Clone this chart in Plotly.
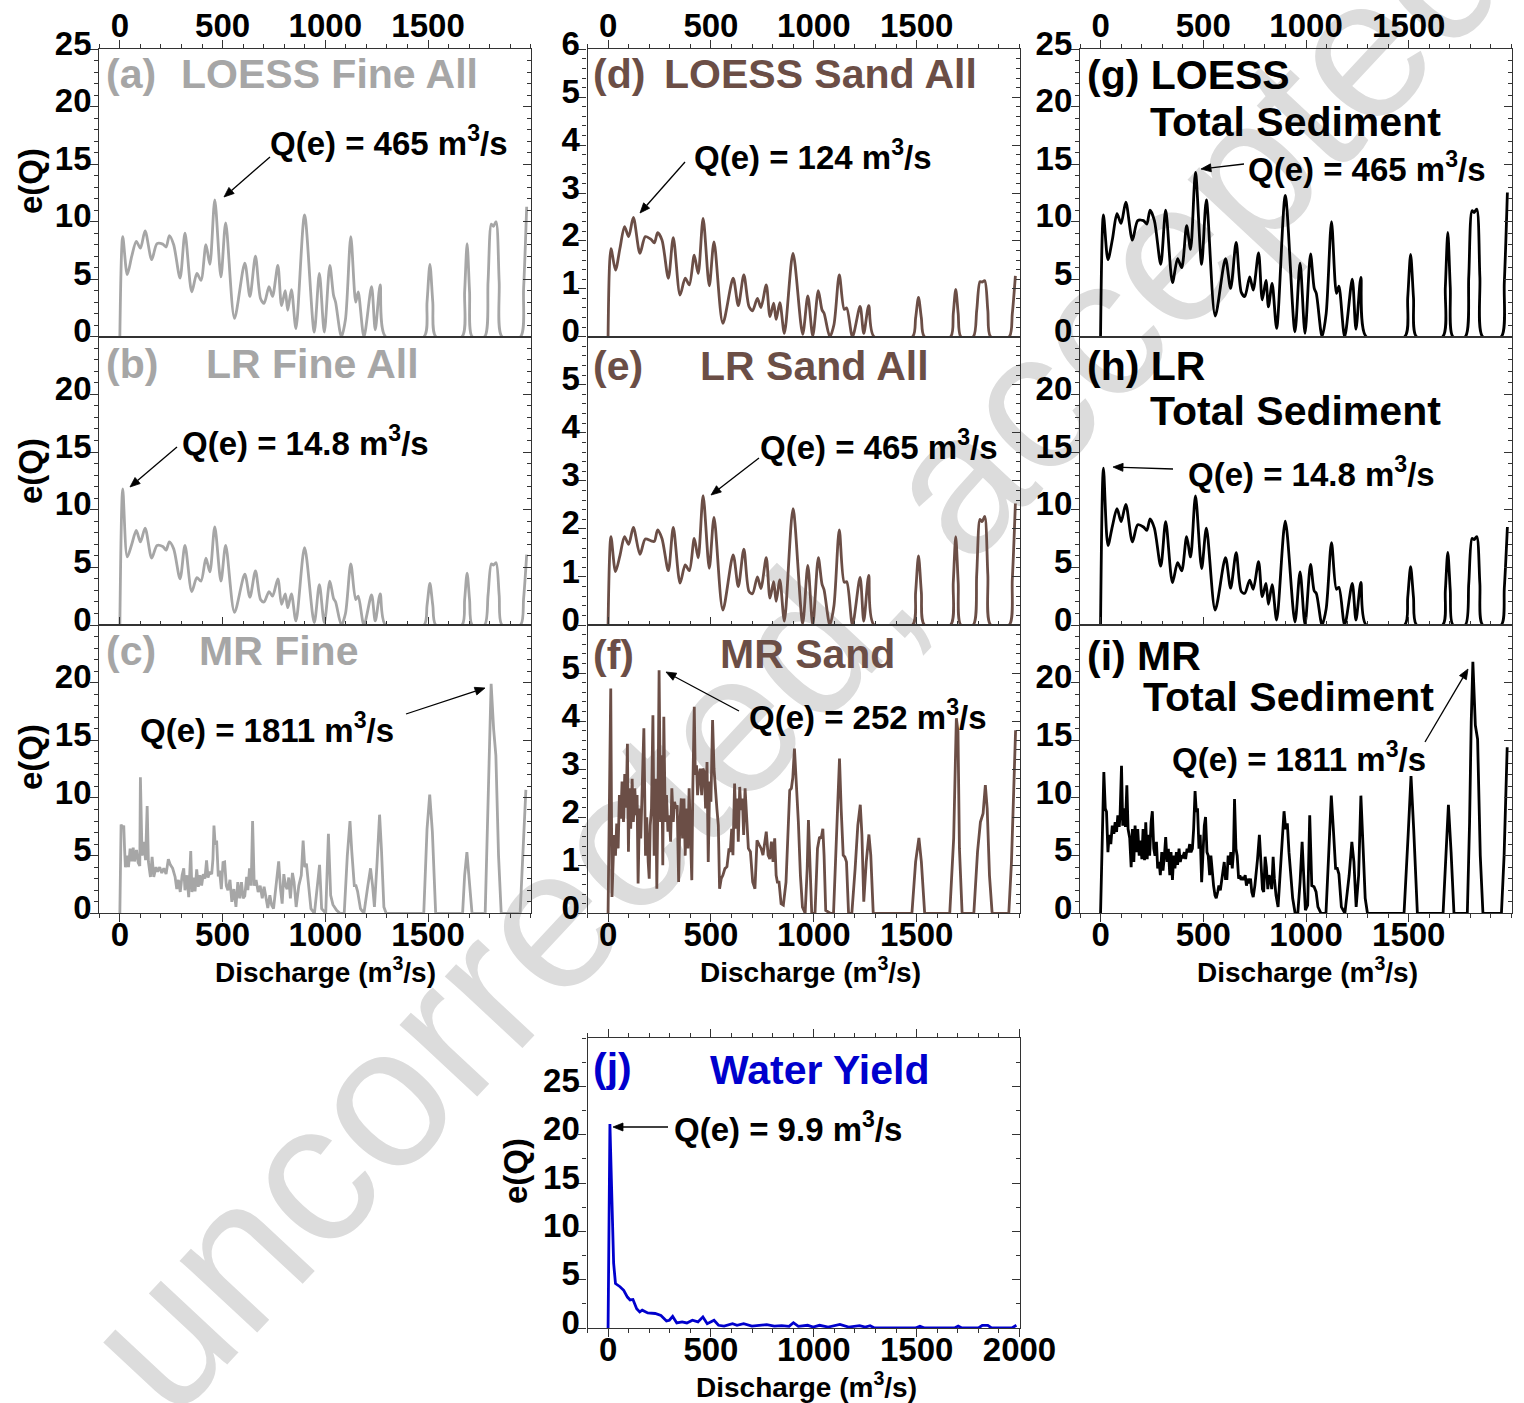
import math
import plotly.graph_objects as go

W, H = 1524, 1403
FONT = "Liberation Sans, Arial, Helvetica, sans-serif"

# ---------------- data ----------------
# common discharge grid used by the LOESS / LR curves (m3/s)
q_grid = [0, 14, 36, 58, 80, 100, 123, 155, 181, 209,
          225, 241, 262, 293, 317, 350, 375, 395, 419, 438,
          462, 492, 515, 558, 608, 633, 660, 685, 702, 726,
          743, 769, 787, 805, 817, 835, 857, 899, 946, 971,
          995, 1022, 1040, 1050, 1078, 1098, 1124, 1148, 1160, 1188,
          1225, 1243, 1267, 1293, 1480, 1495, 1509, 1523, 1538, 1665,
          1678, 1690, 1702, 1715, 1775, 1792, 1808, 1818, 1831, 1846,
          1860, 1950, 1965, 1980]

loess_fine = [0, 8.7, 5.4, 7.0, 8.3, 7.7, 9.2, 6.7, 8.1, 8.05,
              7.8, 8.8, 8.0, 5.1, 9.0, 3.9, 5.5, 4.9, 8.0, 6.3,
              11.9, 5.2, 9.9, 1.6, 6.4, 3.5, 7.0, 3.3, 2.9, 4.35,
              3.5, 6.2, 2.7, 4.0, 2.3, 4.1, 0.7, 10.6, 0.4, 5.5,
              0.4, 6.2, 3.6, 3.0, 0, 1.5, 8.7, 3.0, 3.9, 0,
              4.35, 0.6, 4.5, 0, 0, 3.0, 6.3, 3.0, 0, 0,
              3.9, 8.1, 3.9, 0, 0, 4.8, 9.8, 9.6, 10.0, 4.8,
              0, 0, 4.2, 11.3]

lr_fine = [0, 11.8, 5.9, 7.0, 8.2, 7.2, 8.4, 5.8, 6.9, 6.8,
           6.5, 7.2, 6.6, 4.0, 6.9, 2.9, 4.1, 3.8, 5.8, 4.6,
           8.5, 3.8, 6.9, 1.1, 4.4, 2.4, 4.7, 2.2, 2.0, 2.9,
           2.5, 4.0, 1.8, 2.7, 1.5, 2.7, 0.35, 6.7, 0.2, 3.5,
           0.2, 3.8, 2.3, 2.0, 0, 1.0, 5.3, 2.2, 2.5, 0,
           2.6, 0.35, 2.7, 0, 0, 1.7, 3.6, 1.7, 0, 0,
           2.2, 4.5, 2.2, 0, 0, 2.6, 5.3, 5.2, 5.4, 2.6,
           0, 0, 2.3, 6.1]

loess_sand = [0, 1.84, 1.39, 1.85, 2.3, 2.09, 2.49, 1.74, 2.09, 2.03,
              1.96, 2.17, 2.02, 1.22, 2.07, 0.87, 1.22, 1.08, 1.7, 1.32,
              2.47, 1.06, 1.98, 0.28, 1.22, 0.65, 1.29, 0.63, 0.54, 0.8,
              0.61, 1.08, 0.42, 0.7, 0.36, 0.71, 0.07, 1.74, 0.05, 0.85,
              0.02, 0.96, 0.56, 0.49, 0, 0.25, 1.29, 0.57, 0.6, 0,
              0.63, 0.07, 0.65, 0, 0, 0.39, 0.82, 0.39, 0, 0,
              0.48, 0.99, 0.48, 0, 0, 0.55, 1.15, 1.14, 1.17, 0.55,
              0, 0, 0.48, 1.27]

lr_sand = [0, 1.84, 1.11, 1.45, 1.84, 1.68, 2.03, 1.47, 1.79, 1.75,
           1.74, 1.98, 1.8, 1.13, 2.03, 0.87, 1.25, 1.13, 1.8, 1.4,
           2.69, 1.18, 2.24, 0.31, 1.46, 0.8, 1.58, 0.7, 0.65, 1.0,
           0.76, 1.4, 0.56, 0.9, 0.49, 0.94, 0.08, 2.42, 0.03, 1.24,
           0, 1.4, 0.85, 0.73, 0, 0.4, 1.98, 0.89, 0.9, 0,
           0.99, 0.08, 1.03, 0, 0, 0.68, 1.44, 0.68, 0, 0,
           0.88, 1.84, 0.88, 0, 0, 1.05, 2.2, 2.15, 2.26, 1.05,
           0, 0, 0.95, 2.53]

loess_total = [0, 10.6, 6.7, 8.5, 10.7, 9.86, 11.7, 8.4, 10.1, 10.1,
               9.8, 11.0, 10.1, 6.3, 11.0, 4.7, 6.8, 6.0, 9.65, 7.6,
               14.3, 6.3, 11.9, 1.8, 6.8, 4.2, 8.2, 3.86, 3.5, 5.2,
               4.06, 7.3, 3.2, 4.9, 2.6, 4.64, 0.72, 12.3, 0.43, 6.4,
               0.3, 7.2, 4.2, 3.77, 0, 2.0, 10.0, 3.77, 4.4, 0,
               5.0, 0.64, 5.16, 0, 0, 3.4, 7.16, 3.4, 0, 0,
               4.3, 9.07, 4.3, 0, 0, 5.2, 10.96, 10.8, 11.1, 5.2,
               0, 0, 4.7, 12.55]

lr_total = [0, 13.6, 6.9, 8.6, 10.1, 8.96, 10.46, 7.2, 8.7, 8.5,
            8.2, 9.2, 8.4, 5.1, 8.96, 3.67, 5.4, 4.7, 7.66, 5.9,
            11.2, 4.9, 8.4, 1.3, 5.84, 3.2, 6.27, 2.9, 2.75, 3.9,
            3.1, 5.5, 2.46, 3.6, 1.8, 3.5, 0.43, 9.0, 0.26, 4.6,
            0.06, 5.26, 2.95, 2.75, 0, 1.4, 7.14, 3.1, 3.27, 0,
            3.6, 0.43, 3.7, 0, 0, 2.4, 5.06, 2.4, 0, 0,
            3.0, 6.3, 3.0, 0, 0, 3.6, 7.5, 7.4, 7.66, 3.6,
            0, 0, 3.2, 8.5]

mr_fine_q = [0, 6, 13, 19, 23, 27, 36, 42, 50, 58,
             65, 71, 81, 89, 97, 100, 108, 117, 125, 133,
             139, 149, 157, 165, 176, 184, 194, 204, 214, 225,
             236, 246, 257, 269, 277, 285, 294, 303, 311, 317,
             327, 335, 345, 351, 359, 366, 374, 382, 390, 398,
             406, 414, 422, 429, 438, 447, 453, 458, 464, 471,
             479, 485, 494, 502, 510, 518, 526, 536, 545, 555,
             565, 574, 583, 592, 600, 608, 617, 623, 631, 639,
             646, 654, 663, 673, 683, 693, 702, 710, 720, 730,
             739, 748, 756, 764, 773, 782, 790, 798, 806, 814,
             822, 830, 840, 848, 858, 871, 883, 892, 900, 908,
             917, 930, 947, 961, 972, 982, 1002, 1015, 1026, 1037,
             1055, 1071, 1092, 1107, 1120, 1129, 1141, 1149, 1157, 1171,
             1188, 1207, 1220, 1230, 1239, 1252, 1264, 1273, 1285, 1296,
             1479, 1495, 1508, 1521, 1537, 1668, 1678, 1689, 1699, 1714,
             1778, 1790, 1798, 1807, 1819, 1830, 1843, 1856, 1948, 1961,
             1976]
mr_fine = [0, 7.7, 7.4, 7.6, 5.6, 4.0, 5.0, 4.0, 5.6, 4.5,
           5.7, 4.5, 5.5, 4.4, 4.1, 11.8, 5.0, 6.2, 4.6, 9.3,
           4.45, 3.15, 4.9, 3.15, 4.0, 3.6, 4.0, 3.5, 3.9, 3.4,
           4.7, 4.2, 3.9, 3.15, 2.1, 2.9, 1.85, 3.3, 3.9, 2.0,
           3.3, 1.4, 5.4, 1.85, 3.1, 1.9, 3.8, 2.3, 3.3, 2.4,
           3.4, 3.0, 4.6, 3.1, 3.6, 3.4, 4.7, 7.6, 5.95, 6.3,
           3.2, 3.7, 2.1, 4.4, 4.45, 2.4, 2.0, 2.9, 1.0, 2.1,
           0.55, 2.7, 1.3, 2.7, 1.3, 1.5, 3.15, 2.0, 3.9, 2.4,
           8.0, 2.4, 2.9, 1.85, 2.4, 1.3, 2.3, 1.5, 0.46, 1.56,
           0.7, 0.4, 1.85, 2.7, 4.5, 2.1, 0.84, 3.4, 2.4, 2.1,
           3.1, 1.3, 3.5, 2.7, 0.55, 2.4, 3.3, 6.3, 4.0, 4.3,
           2.4, 0.4, 0, 2.4, 4.2, 0.4, 0, 6.9, 1.56, 0.75,
           0.26, 0, 0, 5.0, 8.0, 5.3, 2.4, 2.4, 1.9, 0.4,
           0, 2.4, 3.9, 2.4, 0.55, 4.45, 8.55, 5.6, 0.55, 0,
           0, 7.3, 10.3, 7.05, 0, 0, 3.3, 5.3, 3.3, 0,
           0, 7.9, 14.3, 19.9, 16.0, 13.7, 5.0, 0, 0, 5.0,
           10.7]

mr_sand_q = [0, 13, 19, 29, 36, 42, 49, 55, 62, 68,
             75, 81, 88, 94, 99, 104, 110, 117, 123, 130,
             136, 141, 146, 153, 159, 166, 174, 182, 188, 195,
             200, 205, 211, 218, 224, 231, 237, 244, 248, 255,
             261, 266, 271, 278, 284, 291, 297, 304, 310, 317,
             323, 330, 336, 343, 349, 356, 362, 369, 375, 381,
             388, 394, 401, 407, 412, 419, 424, 430, 435, 442,
             448, 455, 461, 468, 474, 481, 487, 494, 500, 508,
             515, 521, 529, 536, 542, 550, 558, 568, 578, 588,
             594, 601, 607, 615, 622, 628, 633, 640, 646, 653,
             659, 666, 674, 682, 692, 703, 714, 724, 734, 744,
             753, 763, 769, 778, 786, 794, 802, 810, 817, 823,
             831, 841, 852, 865, 873, 883, 891, 898, 906, 914,
             925, 935, 945, 958, 968, 974, 981, 990, 1006, 1018,
             1028, 1036, 1044, 1050, 1058, 1080, 1096, 1107, 1117, 1125,
             1133, 1143, 1151, 1159, 1169, 1185, 1201, 1214, 1226, 1234,
             1243, 1255, 1268, 1277, 1289, 1477, 1495, 1511, 1523, 1539,
             1661, 1680, 1693, 1701, 1708, 1721, 1778, 1796, 1810, 1823,
             1834, 1843, 1854, 1867, 1948, 1961, 1981]
mr_sand = [0, 4.68, 0.34, 1.63, 1.2, 1.87, 1.35, 2.46, 1.97, 2.74,
           1.9, 2.9, 2.2, 3.53, 1.28, 2.6, 1.76, 2.8, 1.9, 2.6,
           2.04, 2.46, 0.62, 2.18, 1.56, 2.53, 3.85, 1.2, 2.0, 1.07,
           0.72, 1.83, 2.18, 4.12, 1.2, 2.8, 0.51, 3.0, 5.06, 1.9,
           3.29, 1.0, 4.09, 1.9, 2.46, 1.7, 2.04, 1.49, 2.6, 1.9,
           2.32, 2.18, 2.25, 0.65, 1.9, 2.39, 1.56, 2.39, 1.2, 2.18,
           1.35, 2.6, 1.28, 0.69, 2.6, 4.3, 2.88, 3.08, 2.46, 2.88,
           3.01, 2.46, 3.01, 2.94, 2.18, 3.15, 1.07, 2.74, 2.32, 4.02,
           3.01, 2.53, 2.18, 1.83, 0.51, 0.72, 0.79, 0.93, 0.97, 1.35,
           1.28, 1.76, 1.21, 2.7, 1.76, 2.39, 1.49, 2.63, 2.15, 2.39,
           1.63, 2.6, 2.04, 1.35, 1.28, 0.65, 0.51, 1.52, 1.43, 1.35,
           1.21, 1.56, 1.7, 1.21, 1.13, 1.49, 1.07, 1.56, 0.79, 0.65,
           0.65, 0.2, 0.17, 0.65, 1.56, 2.56, 2.6, 2.82, 3.43, 2.8,
           1.9, 0.79, 0.13, 0, 0.93, 1.94, 0.93, 0, 0, 1.35,
           1.59, 1.56, 1.76, 1.21, 0.06, 0, 0, 1.21, 2.18, 3.22,
           2.18, 1.21, 1.17, 1.07, 0, 0, 0.93, 1.83, 2.26, 1.63,
           0.24, 1.07, 1.64, 1.21, 0, 0, 1.07, 1.57, 1.07, 0,
           0, 1.56, 4.06, 3.78, 1.35, 0, 0, 1.28, 1.9, 2.08,
           2.67, 2.18, 0.79, 0, 0, 1.07, 3.81]

mr_total_q = [0, 16, 23, 29, 36, 42, 50, 57, 65, 71,
              78, 84, 91, 95, 102, 108, 115, 121, 128, 134,
              142, 149, 155, 162, 168, 175, 181, 188, 194, 201,
              207, 214, 220, 227, 233, 239, 246, 252, 259, 265,
              272, 278, 285, 291, 298, 304, 311, 317, 324, 330,
              337, 343, 350, 356, 362, 369, 375, 382, 388, 395,
              401, 408, 414, 421, 427, 434, 440, 447, 453, 460,
              466, 472, 479, 485, 492, 498, 505, 511, 518, 524,
              531, 537, 544, 550, 557, 563, 570, 576, 583, 589,
              595, 602, 608, 615, 621, 628, 634, 641, 647, 652,
              659, 665, 672, 678, 684, 691, 697, 704, 710, 717,
              723, 730, 736, 743, 751, 757, 764, 773, 782, 788,
              794, 801, 807, 814, 820, 827, 833, 840, 846, 854,
              864, 875, 885, 893, 901, 909, 917, 927, 935, 947,
              960, 971, 981, 987, 997, 1008, 1018, 1028, 1039, 1049,
              1058, 1073, 1097, 1110, 1123, 1133, 1144, 1152, 1160, 1172,
              1189, 1210, 1223, 1233, 1244, 1256, 1267, 1278, 1288, 1299,
              1477, 1497, 1511, 1524, 1542, 1667, 1680, 1693, 1706, 1720,
              1785, 1796, 1804, 1812, 1824, 1835, 1848, 1861, 1951, 1964,
              1979]
mr_total = [0, 12.25, 9.1, 8.8, 5.3, 6.8, 6.0, 7.6, 6.9, 7.9,
            7.05, 8.5, 7.5, 8.5, 12.8, 7.6, 9.1, 7.5, 11.1, 7.3,
            6.5, 4.0, 7.3, 4.45, 7.6, 5.3, 7.3, 5.0, 6.3, 4.7,
            7.3, 4.6, 7.9, 4.7, 6.8, 5.0, 7.9, 8.85, 5.6, 5.0,
            6.2, 3.9, 4.45, 3.3, 5.3, 3.7, 5.0, 6.6, 4.45, 5.6,
            3.3, 5.3, 2.9, 5.0, 3.9, 5.3, 4.2, 5.6, 4.45, 5.0,
            4.9, 5.3, 4.7, 5.6, 5.3, 6.0, 5.3, 5.6, 7.3, 10.6,
            8.8, 9.1, 5.6, 6.8, 2.7, 5.0, 7.6, 8.35, 5.3, 5.0,
            3.3, 5.0, 3.4, 2.4, 1.56, 1.3, 1.85, 2.4, 2.0, 2.9,
            3.3, 4.45, 3.0, 3.0, 5.0, 4.2, 5.3, 3.9, 5.3, 9.9,
            5.6, 5.0, 3.0, 3.3, 2.9, 3.15, 2.9, 3.3, 2.4, 3.0,
            2.6, 3.0, 1.85, 1.4, 2.4, 3.4, 4.7, 6.8, 3.9, 2.1,
            1.85, 4.9, 4.0, 2.1, 3.3, 3.0, 2.1, 4.9, 3.0, 1.56,
            0.55, 3.9, 6.2, 8.85, 7.3, 7.8, 5.3, 3.0, 1.3, 0,
            0, 2.7, 6.2, 3.9, 0.26, 0.7, 8.5, 2.4, 2.3, 1.85,
            0.55, 0, 0, 5.0, 10.2, 7.3, 3.9, 3.9, 3.4, 0.55,
            0, 3.3, 6.2, 4.45, 0.55, 3.3, 10.2, 5.6, 1.3, 0,
            0, 6.8, 11.9, 7.3, 0, 0, 5.0, 9.4, 5.3, 0,
            0, 7.9, 16.6, 21.8, 16.3, 15.1, 5.0, 0, 0, 5.0,
            14.4]

water_q = [0, 9, 16, 27, 36, 58, 76, 94, 107, 121,
           139, 154, 166, 193, 229, 257, 284, 298, 314, 334,
           360, 383, 410, 437, 461, 482, 515, 537, 564, 605,
           627, 659, 699, 771, 808, 844, 880, 901, 925, 970,
           997, 1028, 1070, 1127, 1169, 1223, 1250, 1274, 1295, 1494,
           1516, 1539, 1684, 1702, 1720, 1801, 1819, 1846, 1864, 1963,
           1985]
water_yield = [0, 21.1, 15.4, 6.7, 4.6, 4.27, 3.9, 3.2, 2.9, 2.95,
               2.0, 1.67, 1.84, 1.56, 1.5, 1.3, 0.73, 0.8, 1.2, 0.52,
               0.63, 0.52, 0.8, 0.63, 1.15, 0.45, 0.8, 0.28, 0.2, 0.45,
               0.28, 0.45, 0.2, 0.35, 0.2, 0.24, 0.17, 0.55, 0.17, 0.28,
               0.1, 0.28, 0.1, 0.38, 0.1, 0.24, 0.1, 0.24, 0, 0,
               0.17, 0, 0, 0.2, 0, 0, 0.28, 0.28, 0, 0,
               0.28]

x_ticks = [0, 500, 1000, 1500]
x_ticks_j = [0, 500, 1000, 1500, 2000]

# ---------------- style ----------------
GRAY = "#a6a6a6"
BROWN = "#6b4e46"
BLACK = "#000000"
BLUE = "#0000cd"
AXC = "#333333"


def px(x):
    return x / W


def py(y):
    return 1 - y / H


fig = go.Figure()

col_px = [(99.3, 530.8), (587.5, 1019.5), (1080.0, 1511.5)]
row_px = [(49.3, 336.7), (336.7, 625.0), (625.0, 913.3)]

panels = [
    ("a", 0, 0, q_grid, loess_fine, GRAY, "spline"),
    ("b", 0, 1, q_grid, lr_fine, GRAY, "spline"),
    ("c", 0, 2, mr_fine_q, mr_fine, GRAY, "linear"),
    ("d", 1, 0, q_grid, loess_sand, BROWN, "spline"),
    ("e", 1, 1, q_grid, lr_sand, BROWN, "spline"),
    ("f", 1, 2, mr_sand_q, mr_sand, BROWN, "linear"),
    ("g", 2, 0, q_grid, loess_total, BLACK, "spline"),
    ("h", 2, 1, q_grid, lr_total, BLACK, "spline"),
    ("i", 2, 2, mr_total_q, mr_total, BLACK, "linear"),
    ("j", 1, 3, water_q, water_yield, BLUE, "linear"),
]

TICKFONT = dict(family=FONT, size=33, color="black", weight="bold")

layout_axes = {}
for n, (key, col, row, q, e, color, shape) in enumerate(panels, start=1):
    sid = "" if n == 1 else str(n)
    rid = str(n + 10)
    x0, x1 = col_px[col]
    if key == "j":
        y0, y1 = 1038.0, 1328.0
    else:
        y0, y1 = row_px[row]
    xdom = [px(x0), px(x1)]
    ydom = [py(y1), py(y0)]

    line = dict(color=color, width=2.8, shape=shape)
    if shape == "spline":
        line["smoothing"] = 0.8
    fig.add_trace(go.Scatter(x=q, y=e, mode="lines", line=line,
                             xaxis="x" + sid, yaxis="y" + sid,
                             showlegend=False, hoverinfo="skip"))
    fig.add_trace(go.Scatter(x=[None], y=[None], mode="lines",
                             xaxis="x" + sid, yaxis="y" + rid,
                             showlegend=False, hoverinfo="skip"))

    # y ranges and ticks
    if key == "j":
        yr, ymaj, ymin = [0, 30], [0, 5, 10, 15, 20, 25], 2.5
    elif col == 1:
        yr, ymin = [0, 6], 0.2
        ymaj = [0, 1, 2, 3, 4, 5, 6] if row == 0 else [0, 1, 2, 3, 4, 5]
    else:
        yr, ymin = [0, 25], 1
        ymaj = [0, 5, 10, 15, 20, 25] if row == 0 else [0, 5, 10, 15, 20]

    # x axis
    xt = x_ticks_j if key == "j" else x_ticks
    if row == 0:
        side, xticks, showlab, mir, sto = "top", "outside", True, True, -10
    elif row == 1:
        side, xticks, showlab, mir, sto = "bottom", "inside", False, True, 0
    elif row == 2:
        side, xticks, showlab, mir, sto = "bottom", "outside", True, True, -16
    else:
        side, xticks, showlab, mir, sto = "bottom", "outside", True, "ticks", -16
    layout_axes["xaxis" + sid] = dict(
        domain=xdom, range=[-100, 2000], anchor="y" + sid, side=side,
        showline=True, linecolor=AXC, linewidth=1.3, mirror=mir,
        ticks=xticks, ticklen=8, tickwidth=1.3, tickcolor=AXC,
        tickmode="array", tickvals=xt, ticktext=[str(v) for v in xt],
        showticklabels=showlab, tickfont=TICKFONT, ticklabelstandoff=sto,
        minor=dict(ticks=xticks, ticklen=4, tickwidth=1.1, dtick=100, tick0=0, tickcolor=AXC),
        showgrid=False, zeroline=False, fixedrange=True, automargin=False)
    layout_axes["yaxis" + sid] = dict(
        domain=ydom, range=yr, anchor="x" + sid,
        showline=True, linecolor=AXC, linewidth=1.3, mirror=True,
        ticks="outside", ticklen=8, tickwidth=1.3, tickcolor=AXC,
        tickmode="array", tickvals=ymaj, ticktext=[str(v) for v in ymaj],
        tickfont=TICKFONT, ticklabelshift=-6, ticklabelstandoff=-8,
        minor=dict(ticks="outside", ticklen=4, tickwidth=1.1, dtick=ymin, tick0=0, tickcolor=AXC),
        showgrid=False, zeroline=False, fixedrange=True, automargin=False)
    layout_axes["yaxis" + rid] = dict(
        overlaying="y" + sid, anchor="x" + sid, side="right", range=yr,
        showline=False, ticks="inside", ticklen=8, tickwidth=1.3, tickcolor=AXC,
        tickmode="array", tickvals=ymaj, showticklabels=False,
        minor=dict(ticks="inside", ticklen=4, tickwidth=1.1, dtick=ymin, tick0=0, tickcolor=AXC),
        showgrid=False, zeroline=False, fixedrange=True, automargin=False)

annotations = []
shapes = []


def txt(x, y, text, size, color="black", xanchor="left", angle=0):
    annotations.append(dict(
        x=px(x), y=py(y), xref="paper", yref="paper", text=text,
        showarrow=False, xanchor=xanchor, yanchor="middle", textangle=angle,
        font=dict(family=FONT, size=size, color=color, weight="bold")))


def arrow(hx, hy, tx, ty, head_len=10.0, head_half=4.0):
    # thin leader line with a small filled triangular head (pixel geometry)
    dx, dy = hx - tx, hy - ty
    d = math.hypot(dx, dy)
    ux, uy = dx / d, dy / d
    vx, vy = -uy, ux
    bx, by = hx - head_len * ux, hy - head_len * uy
    shapes.append(dict(type="line", xref="paper", yref="paper",
                       x0=px(tx), y0=py(ty), x1=px(bx), y1=py(by),
                       line=dict(color="black", width=1.3), layer="above"))
    p1 = (px(hx), py(hy))
    p2 = (px(bx + head_half * vx), py(by + head_half * vy))
    p3 = (px(bx - head_half * vx), py(by - head_half * vy))
    path = "M {:.5f} {:.5f} L {:.5f} {:.5f} L {:.5f} {:.5f} Z".format(*p1, *p2, *p3)
    shapes.append(dict(type="path", xref="paper", yref="paper", path=path,
                       fillcolor="black", line=dict(color="black", width=0.8),
                       layer="above"))


TS = 41
# panel titles
txt(104, 74, "(a)", TS, GRAY)
txt(179, 74, "LOESS Fine All", TS, GRAY)
txt(104, 364, "(b)", TS, GRAY)
txt(204, 364, "LR Fine All", TS, GRAY)
txt(104, 651, "(c)", TS, GRAY)
txt(197, 651, "MR Fine", TS, GRAY)
txt(591, 74, "(d)", TS, BROWN)
txt(662, 74, "LOESS Sand All", TS, BROWN)
txt(591, 366, "(e)", TS, BROWN)
txt(698, 366, "LR Sand All", TS, BROWN)
txt(591, 655, "(f)", TS, BROWN)
txt(718, 654, "MR Sand", TS, BROWN)
txt(1085, 75, "(g) LOESS", TS)
txt(1148, 122, "Total Sediment", TS)
txt(1085, 366, "(h) LR", TS)
txt(1148, 411, "Total Sediment", TS)
txt(1085, 656, "(i) MR", TS)
txt(1141, 697, "Total Sediment", TS)
txt(591, 1068, "(j)", TS, BLUE)
txt(708, 1070, "Water Yield", TS, BLUE)

# Q(e) labels
QS = 33
M3 = " m<sup>3</sup>/s"
txt(268, 141, "Q(e) = 465" + M3, QS)
txt(180, 441, "Q(e) = 14.8" + M3, QS)
txt(138, 728, "Q(e) = 1811" + M3, QS)
txt(692, 155, "Q(e) = 124" + M3, QS)
txt(758, 445, "Q(e) = 465" + M3, QS)
txt(747, 715, "Q(e) = 252" + M3, QS)
txt(1246, 167, "Q(e) = 465" + M3, QS)
txt(1186, 472, "Q(e) = 14.8" + M3, QS)
txt(1170, 757, "Q(e) = 1811" + M3, QS)
txt(672, 1127, "Q(e) = 9.9" + M3, QS)

arrow(224, 197, 270, 157)
arrow(130, 487, 177, 447)
arrow(485, 688, 406, 714)
arrow(640, 213, 685, 162)
arrow(711, 495, 759, 458)
arrow(666, 672, 739, 711)
arrow(1201, 169, 1244, 164)
arrow(1113, 467, 1173, 469)
arrow(1468, 669, 1425, 742)
arrow(613, 1127, 668, 1127)

# axis titles
for yc in (181, 471, 757):
    txt(30, yc, "e(Q)", 33, xanchor="center", angle=-90)
txt(515, 1171, "e(Q)", 33, xanchor="center", angle=-90)
for xc in (325, 810, 1307):
    txt(xc, 970, "Discharge (m<sup>3</sup>/s)", 28, xanchor="center")
txt(807, 1385, "Discharge (m<sup>3</sup>/s)", 28, xanchor="center")

# watermark drawn beneath the data
cx, cy = 782, 640
shapes.append(dict(
    type="rect", xref="paper", yref="paper",
    x0=px(cx - 500), x1=px(cx + 500), y0=py(cy + 500), y1=py(cy - 500),
    line=dict(width=0), fillcolor="rgba(0,0,0,0)", layer="below",
    label=dict(text="uncorrected, accepted", textangle=-47,
               textposition="middle center",
               font=dict(family=FONT, size=200, color="#dcdcdc"))))

fig.update_layout(
    width=W, height=H, autosize=False,
    margin=dict(l=0, r=0, t=0, b=0, pad=0, autoexpand=False),
    paper_bgcolor="white", plot_bgcolor="rgba(0,0,0,0)",
    showlegend=False,
    annotations=annotations, shapes=shapes,
    **layout_axes)

fig.write_html("out.html")
